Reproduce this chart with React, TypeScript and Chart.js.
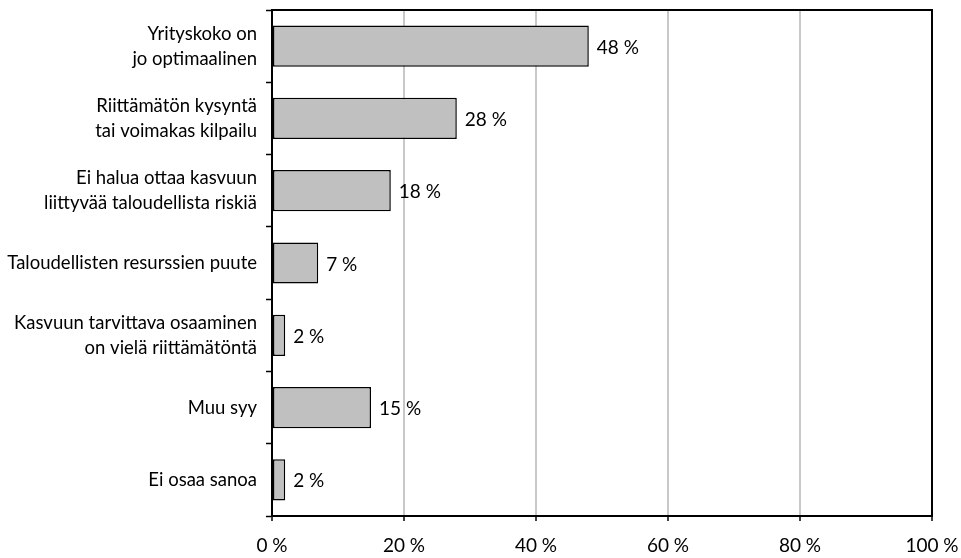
import React, { useEffect, useRef } from "react";
import { Chart, registerables } from "chart.js";

Chart.register(...registerables);

const categories: string[][] = [
  ["Yrityskoko on", "jo optimaalinen"],
  ["Riittämätön kysyntä", "tai voimakas kilpailu"],
  ["Ei halua ottaa kasvuun", "liittyvää taloudellista riskiä"],
  ["Taloudellisten resurssien puute"],
  ["Kasvuun tarvittava osaaminen", "on vielä riittämätöntä"],
  ["Muu syy"],
  ["Ei osaa sanoa"],
];

const shares: number[] = [48, 28, 18, 7, 2, 15, 2];

const xTicks: number[] = [0, 20, 40, 60, 80, 100];

const FONT = "Lato, 'Liberation Sans', sans-serif";
const FONT_SIZE = 18.5;

// Writes "NN %" just right of each bar end.
const valueLabels = {
  id: "valueLabels",
  afterDatasetsDraw(chart: any) {
    const { ctx } = chart;
    const meta = chart.getDatasetMeta(0);
    ctx.save();
    ctx.fillStyle = "#000000";
    ctx.font = `19px ${FONT}`;
    ctx.textAlign = "left";
    ctx.textBaseline = "middle";
    meta.data.forEach((bar: any, i: number) => {
      ctx.fillText(`${shares[i]} %`, bar.x + 8, bar.y + 1.5);
    });
    ctx.restore();
  },
};

// Solid top and right edges of the plot area.
const plotFrame = {
  id: "plotFrame",
  afterDraw(chart: any) {
    const { ctx, chartArea } = chart;
    const { left, top, right, bottom } = chartArea;
    ctx.save();
    ctx.fillStyle = "#000000";
    ctx.fillRect(left - 1, top - 1, right - left + 2, 2);
    ctx.fillRect(right - 1, top - 1, 2, bottom - top + 2);
    ctx.restore();
  },
};

export default function App() {
  const canvasRef = useRef<HTMLCanvasElement | null>(null);

  useEffect(() => {
    const canvas = canvasRef.current;
    if (!canvas) return;
    let chart: Chart | null = null;
    let cancelled = false;

    const build = () => {
      if (cancelled) return;
      chart = new Chart(canvas, {
        type: "bar",
        data: {
          labels: categories,
          datasets: [
            {
              data: shares,
              backgroundColor: "#c0c0c0",
              borderColor: "#000",
              borderWidth: 1.5,
              borderSkipped: false,
              categoryPercentage: 1,
              barPercentage: 0.57,
            },
          ],
        },
        options: {
          indexAxis: "y",
          animation: false,
          responsive: false,
          devicePixelRatio: 1,
          layout: { padding: { top: 10, right: 29, left: 0, bottom: 0 }, autoPadding: false },
          plugins: {
            legend: { display: false },
            tooltip: { enabled: false },
          },
          scales: {
            x: {
              min: 0,
              max: 100,
              afterBuildTicks(scale: any) {
                scale.ticks = xTicks.map((v) => ({ value: v }));
              },
              afterFit(scale: any) {
                scale.height = 42;
                scale.paddingLeft = 0;
                scale.paddingRight = 0;
              },
              ticks: {
                color: "#000",
                font: { family: FONT, size: 19 },
                padding: 13,
                maxRotation: 0,
                callback: (v: any) => `${v} %`,
              },
              grid: {
                color: "#c8c8c8",
                lineWidth: 2,
                tickColor: "#000",
                tickLength: 5,
                tickWidth: 1.5,
              },
              border: { color: "#000", width: 2 },
            },
            y: {
              afterFit(scale: any) {
                scale.width = 272;
                scale.paddingTop = 0;
                scale.paddingBottom = 0;
              },
              ticks: {
                color: "#000",
                font: { family: FONT, size: FONT_SIZE, lineHeight: 1.35 },
                padding: 9,
                crossAlign: "near",
                autoSkip: false,
              },
              grid: {
                drawOnChartArea: false,
                offset: true,
                tickColor: "#000",
                tickLength: 6,
                tickWidth: 1.5,
              },
              border: { color: "#000", width: 2 },
            },
          },
        },
        plugins: [valueLabels, plotFrame],
      });
    };

    // Build once the label font is ready so text metrics are final.
    const fonts = (document as any).fonts;
    if (fonts && fonts.load) {
      fonts.load(`19px Lato`).then(build, build);
    } else {
      build();
    }

    return () => {
      cancelled = true;
      if (chart) chart.destroy();
    };
  }, []);

  return (
    <div style={{ position: "fixed", left: 0, top: 0, width: 961, height: 558, background: "#fff" }}>
      <canvas ref={canvasRef} width={961} height={558} style={{ display: "block" }} />
    </div>
  );
}
